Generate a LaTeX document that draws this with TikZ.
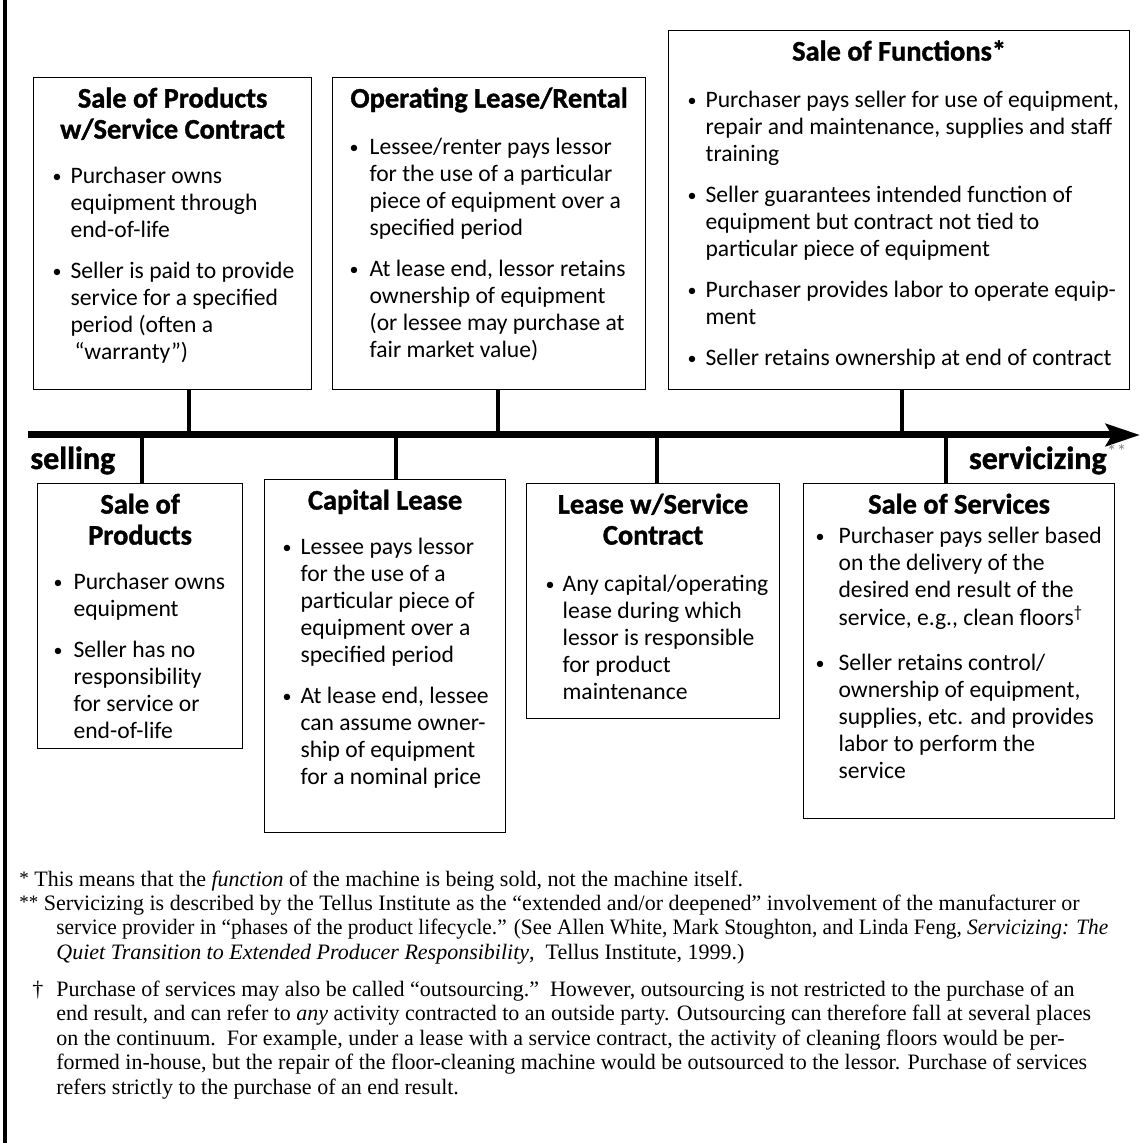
\documentclass[tikz,border=0pt]{standalone}
\usepackage{fontspec}
\setmainfont{Liberation Serif}
\newfontfamily\cardfont[BoldFeatures={FakeBold=1.2}]{Carlito}
\usetikzlibrary{arrows.meta}

% centred bold heading spanning a whole card
\newcommand{\cardhead}[2]{\multicolumn{2}{@{}c@{}}{\makebox[#1]{\smash{\bfseries\fontsize{14.2}{15}\selectfont #2}}}}
\newcommand{\bul}[1][9pt]{\makebox[#1][l]{\raisebox{0.5pt}{\fontsize{9}{9}\selectfont\textbullet}}}
\newcommand{\fnstar}[1]{\raisebox{0.8pt}{\fontsize{9.5}{9.5}\selectfont #1}}

\begin{document}
\begin{tikzpicture}[x=0.5pt, y=-0.5pt,
	card/.style={draw, line width=0.6pt, inner sep=0pt, anchor=north west, text height=15pt,
		font=\cardfont\fontsize{11.8}{13.5}\selectfont},
	stem/.style={line width=2pt},
	axis/.style={line width=3.5pt, -{Stealth[length=17pt, width=11pt, inset=3pt]}},
	axislabel/.style={inner sep=0pt, font=\cardfont\bfseries\fontsize{16}{18}\selectfont},
	footnote/.style={inner sep=0pt, anchor=base west, font=\fontsize{11}{12.25}\selectfont}]

	\useasboundingbox (0,0) rectangle (1146,1143);

	\pgfmathsetmacro{\axisy}{435}

	% frame line on the left
	\draw[line width=1.6pt] (5,0) -- (5,1143);

	% the continuum
	\coordinate (axstart) at (28,\axisy);
	\coordinate (axend) at (1140,\axisy);
	\draw[axis] (axstart) -- (axend);

	\node[axislabel, anchor=base west] (selling) at (30,469) {selling};
	\node[axislabel, anchor=base east] (servicizing) at (1127,469) {servicizing\raisebox{5pt}{\mdseries\fontsize{10}{10}\selectfont\color{black!45}**}};

	% where the cards meet the axis
	\coordinate (axprodsvc) at (189,\axisy);
	\coordinate (axrental) at (498,\axisy);
	\coordinate (axfunctions) at (902,\axisy);
	\coordinate (axproducts) at (142,\axisy);
	\coordinate (axcapital) at (396,\axisy);
	\coordinate (axleasesvc) at (657,\axisy);
	\coordinate (axservices) at (946,\axisy);

	% cards above the axis
	\node[card, text depth=141pt, minimum width=139pt] (prodsvc) at (33,77) {%
		\begin{tabular}[t]{@{\hspace{9.5pt}}l@{}l@{}}
			\cardhead{139pt}{Sale of Products}\\[2pt]
			\cardhead{139pt}{w/Service Contract}\\[9pt]
			\bul & Purchaser owns\\
			& equipment through\\
			& end-of-life\\[7pt]
			\bul & Seller is paid to provide\\
			& service for a specified\\
			& period (often a\\
			& \,“warranty”)
		\end{tabular}};

	\node[card, text depth=141pt, minimum width=156.5pt] (rental) at (332,77) {%
		\begin{tabular}[t]{@{\hspace{8.5pt}}l@{}l@{}}
			\cardhead{156.5pt}{Operating Lease/Rental}\\[10pt]
			\bul[10pt] & Lessee/renter pays lessor\\
			& for the use of a particular\\
			& piece of equipment over a\\
			& specified period\\[7pt]
			\bul[10pt] & At lease end, lessor retains\\
			& ownership of equipment\\
			& (or lessee may purchase at\\
			& fair market value)
		\end{tabular}};

	\node[card, text depth=164.5pt, minimum width=230.5pt] (functions) at (668,30) {%
		\begin{tabular}[t]{@{\hspace{9.5pt}}l@{}l@{}}
			\cardhead{230.5pt}{Sale of Functions*}\\[10pt]
			\bul & Purchaser pays seller for use of equipment,\\
			& repair and maintenance, supplies and staff\\
			& training\\[7pt]
			\bul & Seller guarantees intended function of\\
			& equipment but contract not tied to\\
			& particular piece of equipment\\[7pt]
			\bul & Purchaser provides labor to operate equip-\\
			& ment\\[7pt]
			\bul & Seller retains ownership at end of contract
		\end{tabular}};

	% cards below the axis
	\node[card, text depth=117.5pt, minimum width=102.5pt] (products) at (37,483) {%
		\begin{tabular}[t]{@{\hspace{8pt}}l@{}l@{}}
			\cardhead{102.5pt}{Sale of}\\[2pt]
			\cardhead{102.5pt}{Products}\\[9pt]
			\bul[10pt] & Purchaser owns\\
			& equipment\\[7pt]
			\bul[10pt] & Seller has no\\
			& responsibility\\
			& for service or\\
			& end-of-life
		\end{tabular}};

	\node[card, text depth=161.5pt, minimum width=120.5pt] (capital) at (264,479) {%
		\begin{tabular}[t]{@{\hspace{9pt}}l@{}l@{}}
			\cardhead{120.5pt}{Capital Lease}\\[9pt]
			\bul & Lessee pays lessor\\
			& for the use of a\\
			& particular piece of\\
			& equipment over a\\
			& specified period\\[7pt]
			\bul & At lease end, lessee\\
			& can assume owner-\\
			& ship of equipment\\
			& for a nominal price
		\end{tabular}};

	\node[card, text depth=102.5pt, minimum width=126.5pt] (leasesvc) at (526,483) {%
		\begin{tabular}[t]{@{\hspace{9.5pt}}l@{}l@{}}
			\cardhead{126.5pt}{Lease w/Service}\\[2pt]
			\cardhead{126.5pt}{Contract}\\[10pt]
			\bul[8.5pt] & Any capital/operating\\
			& lease during which\\
			& lessor is responsible\\
			& for product\\
			& maintenance
		\end{tabular}};

	\node[card, text depth=152.5pt, minimum width=155.5pt] (services) at (803,483) {%
		\begin{tabular}[t]{@{\hspace{6pt}}l@{}l@{}}
			\cardhead{155.5pt}{Sale of Services}\\[1.5pt]
			\bul[11.5pt] & Purchaser pays seller based\\
			& on the delivery of the\\
			& desired end result of the\\
			& service, e.g., clean floors\textsuperscript{\textdagger}\\[9pt]
			\bul[11.5pt] & Seller retains control/\\
			& ownership of equipment,\\
			& supplies, etc. and provides\\
			& labor to perform the\\
			& service
		\end{tabular}};

	% stems
	\draw[stem] (prodsvc.south -| axprodsvc) -- (axprodsvc);
	\draw[stem] (rental.south -| axrental) -- (axrental);
	\draw[stem] (functions.south -| axfunctions) -- (axfunctions);
	\draw[stem] (axproducts) -- (products.north -| axproducts);
	\draw[stem] (axcapital) -- (capital.north -| axcapital);
	\draw[stem] (axleasesvc) -- (leasesvc.north -| axleasesvc);
	\draw[stem] (axservices) -- (services.north -| axservices);

	% footnotes
	\node[footnote] (fnfunction) at (19,886) {\fnstar{*}\ This means that the \textit{function} of the machine is being sold, not the machine itself.};

	\node[footnote] (fnservicizing) at (19,910.5) {%
		\begin{tabular}[t]{@{}l@{}}
			\fnstar{**}\ Servicizing is described by the Tellus Institute as the “extended and/or deepened” involvement of the manufacturer or\\
			\hspace{18.5pt}\scalebox{0.97}[1]{service provider in “phases of the product lifecycle.” (See Allen White, Mark Stoughton, and Linda Feng, \textit{Servicizing: The}}\\
			\hspace{18.5pt}\textit{Quiet Transition to Extended Producer Responsibility},\ \ Tellus Institute, 1999.)
		\end{tabular}};

	\node[footnote] (fnoutsourcing) at (19,996) {%
		\begin{tabular}[t]{@{}l@{}}
			\makebox[18.5pt]{\textdagger}Purchase of services may also be called “outsourcing.”\ \ However, outsourcing is not restricted to the purchase of an\\
			\hspace{18.5pt}end result, and can refer to \textit{any} activity contracted to an outside party. Outsourcing can therefore fall at several places\\
			\hspace{18.5pt}on the continuum.\ \ For example, under a lease with a service contract, the activity of cleaning floors would be per-\\
			\hspace{18.5pt}formed in-house, but the repair of the floor-cleaning machine would be outsourced to the lessor. Purchase of services\\
			\hspace{18.5pt}refers strictly to the purchase of an end result.
		\end{tabular}};

\end{tikzpicture}
\end{document}
